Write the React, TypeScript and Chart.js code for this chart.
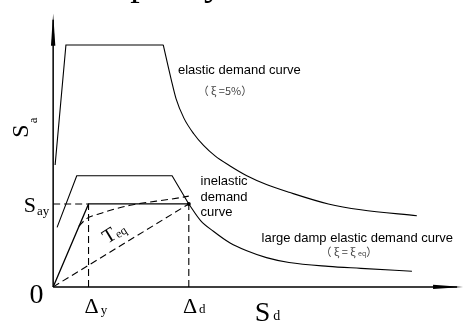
import React, { useEffect, useRef } from "react";
import { Chart, registerables } from "chart.js";
Chart.register(...registerables);

// ---- data (Sd, Sa in drawing units; origin at the axes corner) ----
const SD_MIN = -50;
const SD_MAX = 420;
const SA_MIN = -36;
const SA_MAX = 290;
const SA_AXIS_END = 280;
const SD_AXIS_END = 417;

const elasticRiseSd = [2, 13, 112];
const elasticRiseSa = [125, 248, 248];
const elasticTailSd = [112, 120, 125, 133, 143, 153, 165, 180, 197, 217, 240, 280, 313, 370];
const elasticTailSa = [248, 213, 193, 173, 157, 145, 134, 124, 114, 105, 97, 85, 79, 73];

const inelasticSd = [4, 24, 121, 138];
const inelasticSa = [61, 114, 114, 85];
const inelasticTailSd = [138, 150, 163, 180, 197, 217, 240, 280, 313, 365];
const inelasticTailSa = [85, 68, 57, 45, 37, 30, 25, 21, 19, 16];

const capacitySd = [0, 36, 138];
const capacitySa = [0, 85, 85];
const pushoverSd = [26, 34, 47, 60, 80, 120, 138];
const pushoverSa = [62, 70, 75, 79, 84, 90, 93];

const teqSd = [0, 138];
const teqSa = [0, 85];
const sayLineSd = [0, 36];
const sayLineSa = [85, 85];
const dyLineSd = [36, 36];
const dyLineSa = [0, 85];
const ddLineSd = [138, 138];
const ddLineSa = [0, 85];
const perfPointSd = [138];
const perfPointSa = [85];

const SERIF = '"Liberation Serif", "Times New Roman", serif';
const SANS = '"Liberation Sans", Arial, sans-serif';
const CJK = '"Noto Sans CJK SC", "Liberation Sans", sans-serif';

const pts = (xs: number[], ys: number[]) => xs.map((x, i) => ({ x, y: ys[i] }));

function line(xs: number[], ys: number[], opts: { dash?: boolean; width?: number; smooth?: boolean } = {}) {
  return {
    data: pts(xs, ys),
    showLine: true,
    borderColor: "#000",
    backgroundColor: "#000",
    borderWidth: opts.width ?? 1.1,
    borderDash: opts.dash ? [7, 4] : [],
    pointRadius: 0,
    fill: false,
    cubicInterpolationMode: opts.smooth ? "monotone" : "default",
    tension: 0,
    clip: false,
  } as any;
}

const annotate = {
  id: "annotate",
  beforeDatasetsDraw(chart: any) {
    const ctx = chart.ctx as CanvasRenderingContext2D;
    const xs = chart.scales.x;
    const ys = chart.scales.y;
    const ox = xs.getPixelForValue(0);
    const oy = ys.getPixelForValue(0);
    const ty = ys.getPixelForValue(SA_AXIS_END);
    const rx = xs.getPixelForValue(SD_AXIS_END);
    ctx.save();
    ctx.strokeStyle = "#000";
    ctx.fillStyle = "#000";
    ctx.lineWidth = 1.5;
    ctx.beginPath();
    ctx.moveTo(ox, oy);
    ctx.lineTo(ox, ty + 6);
    ctx.moveTo(ox, oy);
    ctx.lineTo(rx - 6, oy);
    ctx.stroke();
    ctx.beginPath();
    ctx.moveTo(ox, ty);
    ctx.lineTo(ox - 2.2, ty + 32);
    ctx.lineTo(ox + 2.2, ty + 32);
    ctx.closePath();
    ctx.fill();
    ctx.beginPath();
    ctx.moveTo(rx, oy);
    ctx.lineTo(rx - 30, oy - 2.2);
    ctx.lineTo(rx - 30, oy + 2.2);
    ctx.closePath();
    ctx.fill();
    ctx.restore();
  },
  afterDatasetsDraw(chart: any) {
    const ctx = chart.ctx as CanvasRenderingContext2D;
    const xs = chart.scales.x;
    const ys = chart.scales.y;
    const P = (sd: number, sa: number) => [xs.getPixelForValue(sd), ys.getPixelForValue(sa)];
    ctx.save();
    ctx.fillStyle = "#000";
    ctx.textAlign = "left";

    const sub = (x: number, y: number, main: string, s: string, mf: string, sf: string, dx: number, dy: number) => {
      ctx.font = mf;
      ctx.fillText(main, x, y);
      const w = ctx.measureText(main).width;
      ctx.font = sf;
      ctx.fillText(s, x + w + dx, y + dy);
    };

    // clipped title at top
    ctx.textBaseline = "alphabetic";
    ctx.font = `38px ${SERIF}`;
    ctx.fillText("Capacity", 88, -5);

    // sans labels
    ctx.textBaseline = "middle";
    ctx.font = `13px ${SANS}`;
    let [x, y] = P(127, 222);
    ctx.fillText("elastic demand curve", x, y);
    [x, y] = P(150, 108);
    ctx.fillText("inelastic", x, y);
    ctx.fillText("demand", x, y + 16);
    ctx.fillText("curve", x, y + 31);
    [x, y] = P(212, 50);
    ctx.fillText("large damp elastic demand curve", x, y);

    ctx.fillStyle = "#444";
    ctx.font = `11px ${CJK}`;
    [x, y] = P(147, 201);
    ctx.fillText("（ ξ =5%）", x, y);
    [x, y] = P(272, 36);
    ctx.font = `11px ${CJK}`;
    const t1 = "（ ξ = ξ ";
    ctx.fillText(t1, x, y);
    let w = ctx.measureText(t1).width;
    ctx.font = `7px ${CJK}`;
    ctx.fillText("eq", x + w, y + 2);
    w += ctx.measureText("eq").width;
    ctx.font = `11px ${CJK}`;
    ctx.fillText("）", x + w, y);

    // serif math labels
    ctx.fillStyle = "#000";
    ctx.textBaseline = "alphabetic";
    [x, y] = P(-30, 77);
    sub(x, y, "S", "ay", `22px ${SERIF}`, `13px ${SERIF}`, 1, 3);
    [x, y] = P(-24, -17);
    ctx.font = `28px ${SERIF}`;
    ctx.fillText("0", x, y);
    [x, y] = P(32, -27);
    sub(x, y, "Δ", "y", `22px ${SERIF}`, `13px ${SERIF}`, 2, 1);
    [x, y] = P(132, -27);
    sub(x, y, "Δ", "d", `22px ${SERIF}`, `13px ${SERIF}`, 2, 0);
    [x, y] = P(205, -35);
    sub(x, y, "S", "d", `28px ${SERIF}`, `14px ${SERIF}`, 3, -1);

    // rotated Sa
    ctx.save();
    [x, y] = P(-26, 153);
    ctx.translate(x, y);
    ctx.rotate(-Math.PI / 2);
    sub(0, 0, "S", "a", `24px ${SERIF}`, `13px ${SERIF}`, 1, 9);
    ctx.restore();

    // rotated Teq
    ctx.save();
    [x, y] = P(55, 44);
    ctx.translate(x, y);
    ctx.rotate(-Math.atan2(85, 138));
    sub(0, 0, "T", "eq", `20px ${SERIF}`, `12px ${SERIF}`, 0, 1);
    ctx.restore();

    ctx.restore();
  },
};

export default function App() {
  const ref = useRef<HTMLCanvasElement>(null);
  useEffect(() => {
    document.body.style.margin = "0";
    const chart = new Chart(ref.current!, {
      type: "scatter",
      data: {
        datasets: [
          line(elasticRiseSd, elasticRiseSa),
          line(elasticTailSd, elasticTailSa, { smooth: true }),
          line(inelasticSd, inelasticSa),
          line(inelasticTailSd, inelasticTailSa, { smooth: true }),
          line(capacitySd, capacitySa, { width: 1.3 }),
          line(pushoverSd, pushoverSa, { dash: true, smooth: true }),
          line(teqSd, teqSa, { dash: true }),
          line(sayLineSd, sayLineSa, { dash: true }),
          line(dyLineSd, dyLineSa, { dash: true }),
          line(ddLineSd, ddLineSa, { dash: true }),
          { ...line(perfPointSd, perfPointSa), showLine: false, pointRadius: 2, pointBackgroundColor: "#000", pointBorderWidth: 0 },
        ],
      },
      options: {
        responsive: false,
        animation: false,
        devicePixelRatio: 1,
        events: [],
        layout: { padding: 0 },
        plugins: { legend: { display: false }, tooltip: { enabled: false }, title: { display: false } },
        scales: {
          x: { type: "linear", min: SD_MIN, max: SD_MAX, display: false },
          y: { type: "linear", min: SA_MIN, max: SA_MAX, display: false },
        },
      } as any,
      plugins: [annotate],
    });
    return () => chart.destroy();
  }, []);
  return (
    <div style={{ position: "fixed", left: 0, top: 0 }}>
      <canvas ref={ref} width={470} height={326} style={{ display: "block", width: 470, height: 326 }} />
    </div>
  );
}
